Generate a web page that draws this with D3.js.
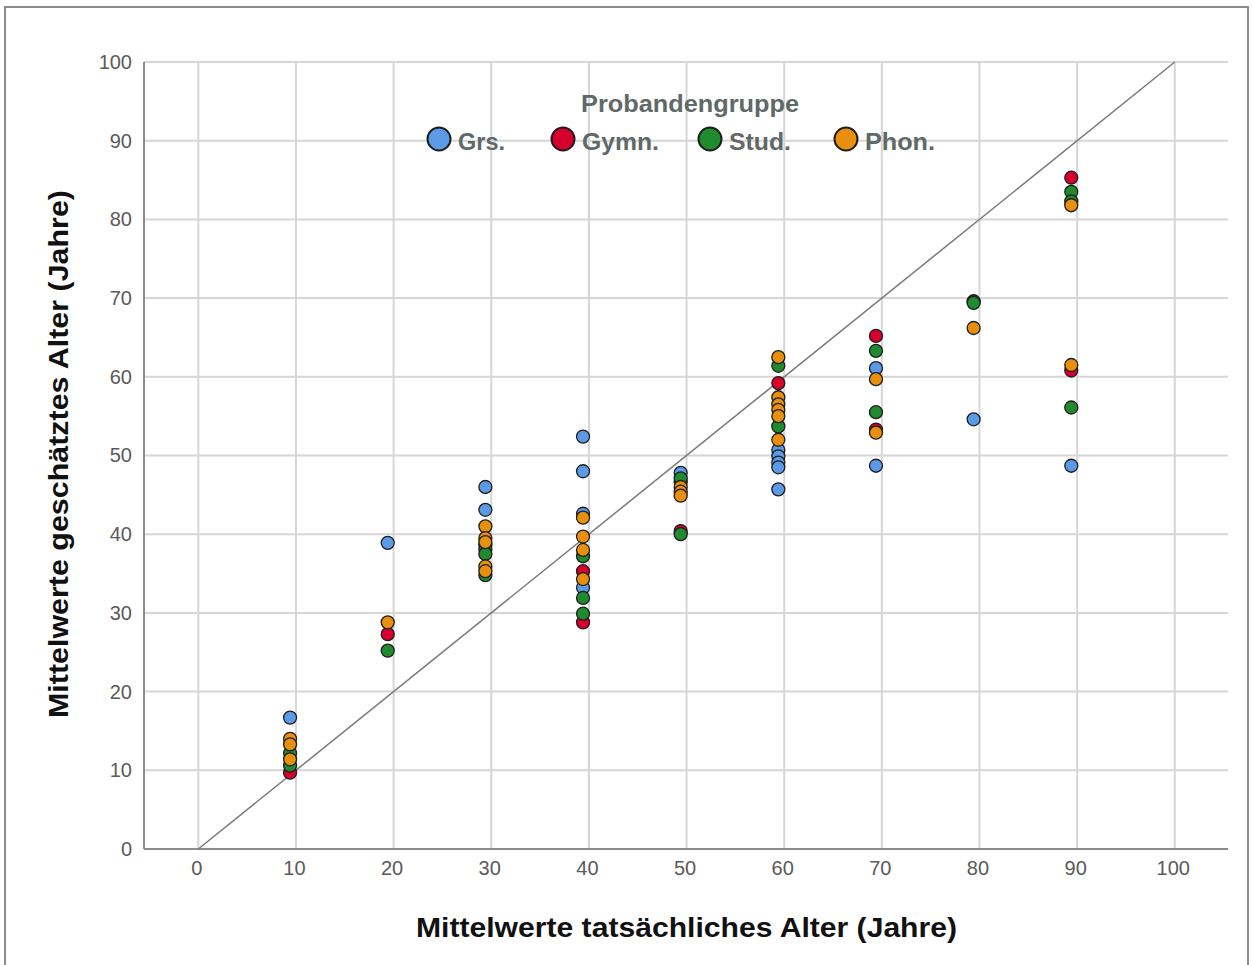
<!DOCTYPE html>
<html>
<head>
<meta charset="utf-8">
<script src="https://cdn.jsdelivr.net/npm/d3@7"></script>
<style>
  body { margin: 0; background: #fff; }
  svg { font-family: "Liberation Sans", Arial, sans-serif; }
</style>
</head>
<body>
<svg id="chart" width="1253" height="965"></svg>
<script>
// groups of the legend
const groups = ['Grs.', 'Gymn.', 'Stud.', 'Phon.'];
const groupColors = ['#5b9ae6', '#d7002c', '#1f8a2e', '#e8900e'];

// [actual mean age, estimated mean age] per group
const grsPoints = [
  [9.4, 16.7], [19.4, 38.9], [29.4, 46.0], [29.4, 43.1],
  [39.4, 52.4], [39.4, 48.0], [39.4, 42.6], [39.4, 33.2],
  [49.4, 47.8], [59.4, 50.7], [59.4, 49.9], [59.4, 49.1], [59.4, 48.5], [59.4, 45.7],
  [69.4, 61.1], [69.4, 48.7], [79.4, 54.6], [89.4, 48.7],
];
const gymnPoints = [
  [9.4, 9.7], [19.4, 27.3], [29.4, 38.6], [39.4, 35.3], [39.4, 28.8],
  [49.4, 46.6], [49.4, 40.4], [59.4, 59.2], [69.4, 65.2], [69.4, 53.3],
  [79.4, 69.6], [89.4, 85.3], [89.4, 60.8],
];
const studPoints = [
  [9.4, 12.2], [9.4, 10.6], [19.4, 25.2], [29.4, 38.1], [29.4, 37.5], [29.4, 34.8],
  [39.4, 37.2], [39.4, 31.9], [39.4, 29.9], [49.4, 47.1], [49.4, 40.0],
  [59.4, 61.4], [59.4, 53.7], [69.4, 63.3], [69.4, 55.5],
  [79.4, 69.4], [89.4, 83.5], [89.4, 82.3], [89.4, 56.1],
];
const phonPoints = [
  [9.4, 14.0], [9.4, 13.3], [9.4, 11.4], [19.4, 28.8],
  [29.4, 41.0], [29.4, 39.5], [29.4, 39.0], [29.4, 35.9], [29.4, 35.3],
  [39.4, 42.1], [39.4, 39.7], [39.4, 38.0], [39.4, 34.3],
  [49.4, 46.0], [49.4, 45.4], [49.4, 44.9],
  [59.4, 62.5], [59.4, 57.4], [59.4, 56.5], [59.4, 55.8], [59.4, 55.0], [59.4, 52.0],
  [69.4, 59.7], [69.4, 52.9], [79.4, 66.2], [89.4, 81.8], [89.4, 61.5],
];
const seriesPoints = [grsPoints, gymnPoints, studPoints, phonPoints];

const axisTicks = [0, 10, 20, 30, 40, 50, 60, 70, 80, 90, 100];

const svg = d3.select('#chart');

// outer frame
svg.append('rect')
  .attr('x', 5).attr('y', 7)
  .attr('width', 1243).attr('height', 970)
  .attr('fill', 'none')
  .attr('stroke', '#8c8c8c')
  .attr('stroke-width', 2);

const plotLeft = 144;
const plotRight = 1228;
const plotTop = 62;
const plotBottom = 849;

const x = d3.scaleLinear().domain([-5.56, 105.45]).range([plotLeft, plotRight]);
const y = d3.scaleLinear().domain([0, 100]).range([plotBottom, plotTop]);

// grid lines
const grid = svg.append('g');
grid.selectAll('line.v')
  .data(axisTicks)
  .enter().append('line')
  .attr('class', 'v')
  .attr('x1', d => x(d)).attr('x2', d => x(d))
  .attr('y1', plotTop).attr('y2', plotBottom)
  .attr('stroke', '#d6d6d6')
  .attr('stroke-width', 2);
grid.selectAll('line.h')
  .data(axisTicks.slice(1))
  .enter().append('line')
  .attr('class', 'h')
  .attr('x1', plotLeft).attr('x2', plotRight)
  .attr('y1', d => y(d)).attr('y2', d => y(d))
  .attr('stroke', '#d6d6d6')
  .attr('stroke-width', 2);

// axes
const xAxis = svg.append('g')
  .attr('transform', `translate(0,${plotBottom})`)
  .call(d3.axisBottom(x).tickValues(axisTicks).tickSize(0).tickPadding(12));
const yAxis = svg.append('g')
  .attr('transform', `translate(${plotLeft},0)`)
  .call(d3.axisLeft(y).tickValues(axisTicks).tickSize(0).tickPadding(12));

[xAxis, yAxis].forEach((ax) => {
  ax.select('.domain').attr('stroke', '#8c8c8c').attr('stroke-width', 2);
  ax.selectAll('text')
    .attr('fill', '#5a5a5a')
    .style('font-size', '20px')
    .style('font-family', '"Liberation Sans", Arial, sans-serif');
});
xAxis.selectAll('text').attr('dx', -2);
yAxis.select('.domain').attr('d', `M0,${plotTop}V${plotBottom}`);
xAxis.select('.domain').attr('d', `M${plotLeft},0H${plotRight}`);

// reference line y = x
svg.append('line')
  .attr('x1', x(0)).attr('y1', y(0))
  .attr('x2', x(100)).attr('y2', y(100))
  .attr('stroke', '#7a7a7a')
  .attr('stroke-width', 1.5);

// points
seriesPoints.forEach((pts, i) => {
  svg.append('g')
    .selectAll('circle')
    .data(pts)
    .enter().append('circle')
    .attr('cx', d => x(d[0]))
    .attr('cy', d => y(d[1]))
    .attr('r', 6.5)
    .attr('fill', groupColors[i])
    .attr('stroke', '#1e1e1e')
    .attr('stroke-width', 1.3);
});

// legend
const legendX = [439, 563, 710, 846];
const legendWidths = [47, 77, 62, 70];
svg.append('text')
  .attr('x', 581).attr('y', 112)
  .attr('fill', '#5e6968')
  .style('font-size', '23px')
  .style('font-weight', 'bold')
  .attr('textLength', 218)
  .attr('lengthAdjust', 'spacingAndGlyphs')
  .text('Probandengruppe');

const item = svg.append('g').selectAll('g')
  .data(groups)
  .enter().append('g')
  .attr('transform', (d, i) => `translate(${legendX[i]},139)`);
item.append('circle')
  .attr('r', 11.5)
  .attr('fill', (d, i) => groupColors[i])
  .attr('stroke', '#1e1e1e')
  .attr('stroke-width', 2);
item.append('text')
  .attr('x', 19).attr('y', 11)
  .attr('fill', '#5e6968')
  .style('font-size', '23px')
  .style('font-weight', 'bold')
  .attr('textLength', (d, i) => legendWidths[i])
  .attr('lengthAdjust', 'spacingAndGlyphs')
  .text(d => d);

// axis titles
svg.append('text')
  .attr('x', 416).attr('y', 937)
  .style('font-size', '28px')
  .style('font-weight', 'bold')
  .attr('fill', '#111')
  .attr('textLength', 541)
  .attr('lengthAdjust', 'spacingAndGlyphs')
  .text('Mittelwerte tatsächliches Alter (Jahre)');

svg.append('text')
  .attr('transform', 'translate(68,718) rotate(-90)')
  .style('font-size', '28px')
  .style('font-weight', 'bold')
  .attr('fill', '#111')
  .attr('textLength', 528)
  .attr('lengthAdjust', 'spacingAndGlyphs')
  .text('Mittelwerte geschätztes Alter (Jahre)');
</script>
</body>
</html>
